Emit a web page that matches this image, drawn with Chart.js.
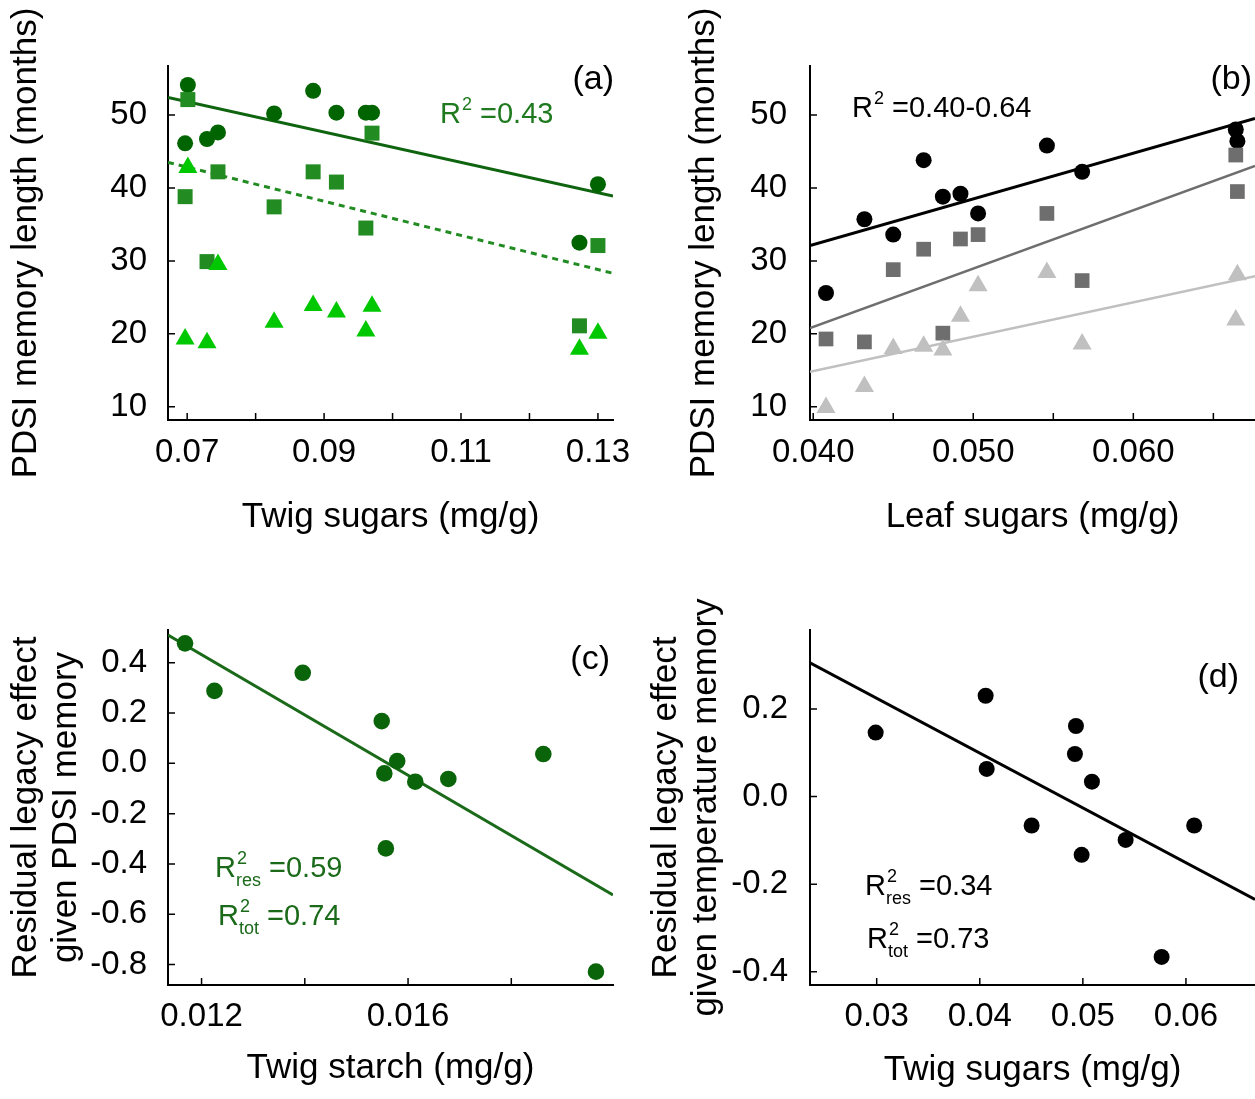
<!DOCTYPE html>
<html>
<head>
<meta charset="utf-8">
<script src="https://cdn.jsdelivr.net/npm/chart.js@4.4.1/dist/chart.umd.min.js"></script>
<style>
    body { margin: 0; background: #fff; width: 1255px; height: 1099px; position: relative; overflow: hidden; }
    canvas { position: absolute; }
</style>
</head>
<body>
<canvas id="chartA" width="640" height="549" style="left:0;top:0"></canvas>
<canvas id="chartB" width="577" height="549" style="left:678px;top:0"></canvas>
<canvas id="chartC" width="640" height="550" style="left:0;top:549px"></canvas>
<canvas id="chartD" width="615" height="550" style="left:640px;top:549px"></canvas>
<script>
// (a) memória PDSI vs açúcares do ramo
const twigSugarA = [0.0697, 0.0701, 0.0729, 0.0745, 0.0827, 0.0884, 0.0918, 0.0961, 0.0970, 0.1273, 0.1300];
const memCircleA = [46.1, 54.1, 46.7, 47.6, 50.2, 53.3, 50.3, 50.3, 50.3, 32.5, 40.5];
const memSquareA = [38.8, 52.1, 29.9, 42.2, 37.4, 42.2, 40.8, 34.5, 47.5, 21.1, 32.1];
const memTriangleA = [19.3, 42.8, 18.8, 29.5, 21.6, 23.9, 23.0, 20.4, 23.8, 17.9, 20.1];
const fitXA = [0.0672, 0.1322];
const fitSolidA = [52.4, 38.9];
const fitDashA = [43.5, 28.3];
const ticksXA = [0.07, 0.08, 0.09, 0.10, 0.11, 0.12, 0.13];
const labelsXA = ['0.07', '', '0.09', '', '0.11', '', '0.13'];

// (b) memória PDSI vs açúcares da folha
const leafSugarB = [0.0408, 0.0432, 0.0450, 0.0469, 0.0481, 0.0492, 0.0503, 0.0546, 0.0568, 0.0664, 0.0665];
const memCircleB = [25.6, 35.7, 33.6, 43.8, 38.8, 39.2, 36.5, 45.8, 42.2, 48.0, 46.4];
const memSquareB = [19.3, 18.9, 28.8, 31.6, 20.1, 33.0, 33.6, 36.5, 27.3, 44.5, 39.5];
const memTriangleB = [9.9, 12.8, 18.0, 18.3, 17.8, 22.4, 26.6, 28.4, 18.6, 21.9, 28.1];
const fitXB = [0.0398, 0.0676];
const fitBlackB = [32.1, 49.5];
const fitGreyB = [20.8, 43.0];
const fitLightB = [14.8, 27.9];
const ticksXB = [0.040, 0.045, 0.050, 0.055, 0.060, 0.065];
const labelsXB = ['0.040', '', '0.050', '', '0.060', ''];

const ticksMem = [10, 20, 30, 40, 50];
const labelsMem = ['10', '20', '30', '40', '50'];

// (c) efeito residual vs amido do ramo
const twigStarchC = [0.01168, 0.01225, 0.01396, 0.01549, 0.01554, 0.01579, 0.01614, 0.01678, 0.01557, 0.01862, 0.01964];
const residualC = [0.477, 0.288, 0.360, 0.168, -0.040, 0.009, -0.073, -0.062, -0.338, 0.037, -0.828];
const fitXC = [0.01135, 0.01997];
const fitC = [0.51, -0.523];
const ticksXC = [0.012, 0.014, 0.016, 0.018];
const labelsXC = ['0.012', '', '0.016', ''];
const ticksYC = [0.4, 0.2, 0, -0.2, -0.4, -0.6, -0.8];
const labelsYC = ['0.4', '0.2', '0.0', '-0.2', '-0.4', '-0.6', '-0.8'];

// (d) efeito residual vs açúcares do ramo
const twigSugarD = [0.0299, 0.04057, 0.04067, 0.04503, 0.04933, 0.04923, 0.05088, 0.04988, 0.05415, 0.0608, 0.05764];
const residualD = [0.146, 0.230, 0.063, -0.066, 0.161, 0.097, 0.034, -0.133, -0.099, -0.066, -0.366];
const fitXD = [0.02353, 0.0667];
const fitD = [0.305, -0.235];
const ticksXD = [0.03, 0.04, 0.05, 0.06];
const labelsXD = ['0.03', '0.04', '0.05', '0.06'];
const ticksYD = [0.2, 0, -0.2, -0.4];
const labelsYD = ['0.2', '0.0', '-0.2', '-0.4'];

Chart.defaults.font.family = '"Liberation Sans", Arial, sans-serif';
Chart.defaults.color = '#000';

const FONT = '"Liberation Sans", Arial, sans-serif';

function pts(xs, ys) {
    return xs.map((x, i) => ({ x: x, y: ys[i] }));
}

function markers(xs, ys, style, radius, color, order) {
    return {
        data: pts(xs, ys),
        pointStyle: style,
        pointRadius: radius,
        pointHoverRadius: radius,
        backgroundColor: color,
        borderColor: color,
        borderWidth: 0,
        showLine: false,
        order: order
    };
}

function fitLine(xs, ys, color, width, dash) {
    return {
        data: pts(xs, ys),
        showLine: true,
        pointRadius: 0,
        borderColor: color,
        borderWidth: width,
        borderDash: dash || [],
        fill: false,
        order: 10
    };
}

function makeScales(o) {
    return {
        x: {
            type: 'linear',
            position: 'bottom',
            min: o.xMin,
            max: o.xMax,
            bounds: 'data',
            grid: { display: false, drawTicks: false },
            border: { display: true, color: '#000', width: 2 },
            afterBuildTicks: s => { s.ticks = o.xTicks.map(v => ({ value: v })); },
            afterFit: s => { s.height = o.xHeight; s.paddingLeft = 0; s.paddingRight = 0; },
            ticks: {
                autoSkip: false, maxRotation: 0, minRotation: 0,
                padding: o.xPad, color: '#000', font: { size: 33 },
                callback: (v, i) => o.xLabels[i]
            },
            title: {
                display: true, text: o.xTitle, color: '#000',
                font: { size: 35, lineHeight: 1.143 },
                padding: { top: 0, bottom: o.xTitlePad }
            }
        },
        y: {
            type: 'linear',
            position: 'left',
            min: o.yMin,
            max: o.yMax,
            bounds: 'data',
            grid: { display: false, drawTicks: false },
            border: { display: true, color: '#000', width: 2 },
            afterBuildTicks: s => { s.ticks = o.yTicks.map(v => ({ value: v })); },
            afterFit: s => { s.width = o.yWidth; s.paddingTop = 0; s.paddingBottom = 0; },
            ticks: {
                autoSkip: false,
                padding: o.yPad, color: '#000', font: { size: 33 },
                callback: (v, i) => o.yLabels[i]
            },
            title: {
                display: true, text: o.yTitle, color: '#000',
                font: { size: 35, lineHeight: 1.143 },
                padding: { top: 6, bottom: 0 }
            }
        }
    };
}

// marcas dos eixos voltadas para dentro
const innerTicks = {
    id: 'innerTicks',
    beforeDatasetsDraw(chart) {
        const { ctx, chartArea: a, scales: { x, y } } = chart;
        ctx.save();
        ctx.strokeStyle = '#000';
        ctx.lineWidth = 1.5;
        ctx.beginPath();
        x.ticks.forEach(t => {
            const px = x.getPixelForValue(t.value);
            ctx.moveTo(px, a.bottom);
            ctx.lineTo(px, a.bottom - 7);
        });
        y.ticks.forEach(t => {
            const py = y.getPixelForValue(t.value);
            ctx.moveTo(a.left, py);
            ctx.lineTo(a.left + 7, py);
        });
        ctx.stroke();
        ctx.restore();
    }
};

// letras dos painéis e textos de R²
const notes = {
    id: 'notes',
    afterDraw(chart, args, opts) {
        const ctx = chart.ctx;
        ctx.save();
        ctx.fillStyle = '#000';
        ctx.font = '34px ' + FONT;
        ctx.textAlign = 'right';
        ctx.textBaseline = 'middle';
        ctx.fillText(opts.letter, opts.letterX, opts.letterY);
        ctx.textAlign = 'left';
        ctx.textBaseline = 'alphabetic';
        (opts.r2 || []).forEach(r => {
            ctx.fillStyle = r.color;
            ctx.font = '29px ' + FONT;
            ctx.fillText('R', r.x, r.y);
            const cx = r.x + ctx.measureText('R').width;
            ctx.font = '18px ' + FONT;
            ctx.fillText('2', cx + 1, r.y - 13);
            let w = ctx.measureText('2').width + 1;
            if (r.sub) {
                ctx.fillText(r.sub, cx, r.y + 9);
                w = Math.max(w, ctx.measureText(r.sub).width);
            }
            ctx.font = '29px ' + FONT;
            ctx.fillText(' =' + r.value, cx + w, r.y);
        });
        ctx.restore();
    }
};

const baseOptions = {
    responsive: false,
    animation: false,
    events: [],
    plugins: { legend: { display: false }, tooltip: { enabled: false } }
};

// Painel (a)
new Chart(document.getElementById('chartA'), {
    type: 'scatter',
    data: {
        datasets: [
            markers(twigSugarA, memTriangleA, 'triangle', 11, '#00c800', 1),
            markers(twigSugarA, memSquareA, 'rect', 10.6, '#228b22', 2),
            markers(twigSugarA, memCircleA, 'circle', 8, '#006400', 3),
            fitLine(fitXA, fitSolidA, '#0f640f', 3),
            fitLine(fitXA, fitDashA, '#228b22', 3, [6, 5])
        ]
    },
    options: {
        ...baseOptions,
        layout: { autoPadding: false, padding: { left: 0, top: 66, right: 27, bottom: 0 } },
        scales: makeScales({
            xMin: 0.0672, xMax: 0.1322, xTicks: ticksXA, xLabels: labelsXA, xHeight: 129, xPad: 13,
            xTitle: 'Twig sugars (mg/g)', xTitlePad: 12,
            yMin: 8.2, yMax: 56.7, yTicks: ticksMem, yLabels: labelsMem, yWidth: 168, yPad: 21,
            yTitle: 'PDSI memory length (months)'
        }),
        plugins: {
            ...baseOptions.plugins,
            notes: {
                letter: '(a)', letterX: 614, letterY: 80,
                r2: [{ x: 440, y: 123, sub: '', value: '0.43', color: '#1f7a1f' }]
            }
        }
    },
    plugins: [innerTicks, notes]
});

// Painel (b)
new Chart(document.getElementById('chartB'), {
    type: 'scatter',
    data: {
        datasets: [
            markers(leafSugarB, memTriangleB, 'triangle', 11, '#c0c0c0', 1),
            markers(leafSugarB, memSquareB, 'rect', 10.4, '#6e6e6e', 2),
            markers(leafSugarB, memCircleB, 'circle', 8, '#000000', 3),
            fitLine(fitXB, fitBlackB, '#000000', 3),
            fitLine(fitXB, fitGreyB, '#6e6e6e', 2.5),
            fitLine(fitXB, fitLightB, '#c0c0c0', 2.5)
        ]
    },
    options: {
        ...baseOptions,
        layout: { autoPadding: false, padding: { left: 0, top: 66, right: 0, bottom: 0 } },
        scales: makeScales({
            xMin: 0.0398, xMax: 0.0676, xTicks: ticksXB, xLabels: labelsXB, xHeight: 129, xPad: 13,
            xTitle: 'Leaf sugars (mg/g)', xTitlePad: 12,
            yMin: 8.2, yMax: 56.7, yTicks: ticksMem, yLabels: labelsMem, yWidth: 132, yPad: 23,
            yTitle: 'PDSI memory length (months)'
        }),
        plugins: {
            ...baseOptions.plugins,
            notes: {
                letter: '(b)', letterX: 574, letterY: 80,
                r2: [{ x: 174, y: 117, sub: '', value: '0.40-0.64', color: '#000000' }]
            }
        }
    },
    plugins: [innerTicks, notes]
});

// Painel (c)
new Chart(document.getElementById('chartC'), {
    type: 'scatter',
    data: {
        datasets: [
            markers(twigStarchC, residualC, 'circle', 8.3, '#0a640a', 1),
            fitLine(fitXC, fitC, '#1a6a1a', 3)
        ]
    },
    options: {
        ...baseOptions,
        layout: { autoPadding: false, padding: { left: 0, top: 81, right: 27, bottom: 0 } },
        scales: makeScales({
            xMin: 0.01135, xMax: 0.01997, xTicks: ticksXC, xLabels: labelsXC, xHeight: 114, xPad: 12,
            xTitle: 'Twig starch (mg/g)', xTitlePad: 11,
            yMin: -0.881, yMax: 0.53, yTicks: ticksYC, yLabels: labelsYC, yWidth: 168, yPad: 21,
            yTitle: ['Residual legacy effect', 'given PDSI memory']
        }),
        plugins: {
            ...baseOptions.plugins,
            notes: {
                letter: '(c)', letterX: 610, letterY: 111,
                r2: [
                    { x: 215, y: 328, sub: 'res', value: '0.59', color: '#1a6a1a' },
                    { x: 218, y: 376, sub: 'tot', value: '0.74', color: '#1a6a1a' }
                ]
            }
        }
    },
    plugins: [innerTicks, notes]
});

// Painel (d)
new Chart(document.getElementById('chartD'), {
    type: 'scatter',
    data: {
        datasets: [
            markers(twigSugarD, residualD, 'circle', 8, '#000000', 1),
            fitLine(fitXD, fitD, '#000000', 3)
        ]
    },
    options: {
        ...baseOptions,
        layout: { autoPadding: false, padding: { left: 0, top: 81, right: 0, bottom: 0 } },
        scales: makeScales({
            xMin: 0.02353, xMax: 0.0667, xTicks: ticksXD, xLabels: labelsXD, xHeight: 114, xPad: 12,
            xTitle: 'Twig sugars (mg/g)', xTitlePad: 9,
            yMin: -0.43, yMax: 0.38, yTicks: ticksYD, yLabels: labelsYD, yWidth: 170, yPad: 22,
            yTitle: ['Residual legacy effect', 'given temperature memory']
        }),
        plugins: {
            ...baseOptions.plugins,
            notes: {
                letter: '(d)', letterX: 599, letterY: 129,
                r2: [
                    { x: 225, y: 346, sub: 'res', value: '0.34', color: '#000000' },
                    { x: 227, y: 399, sub: 'tot', value: '0.73', color: '#000000' }
                ]
            }
        }
    },
    plugins: [innerTicks, notes]
});
</script>
</body>
</html>
